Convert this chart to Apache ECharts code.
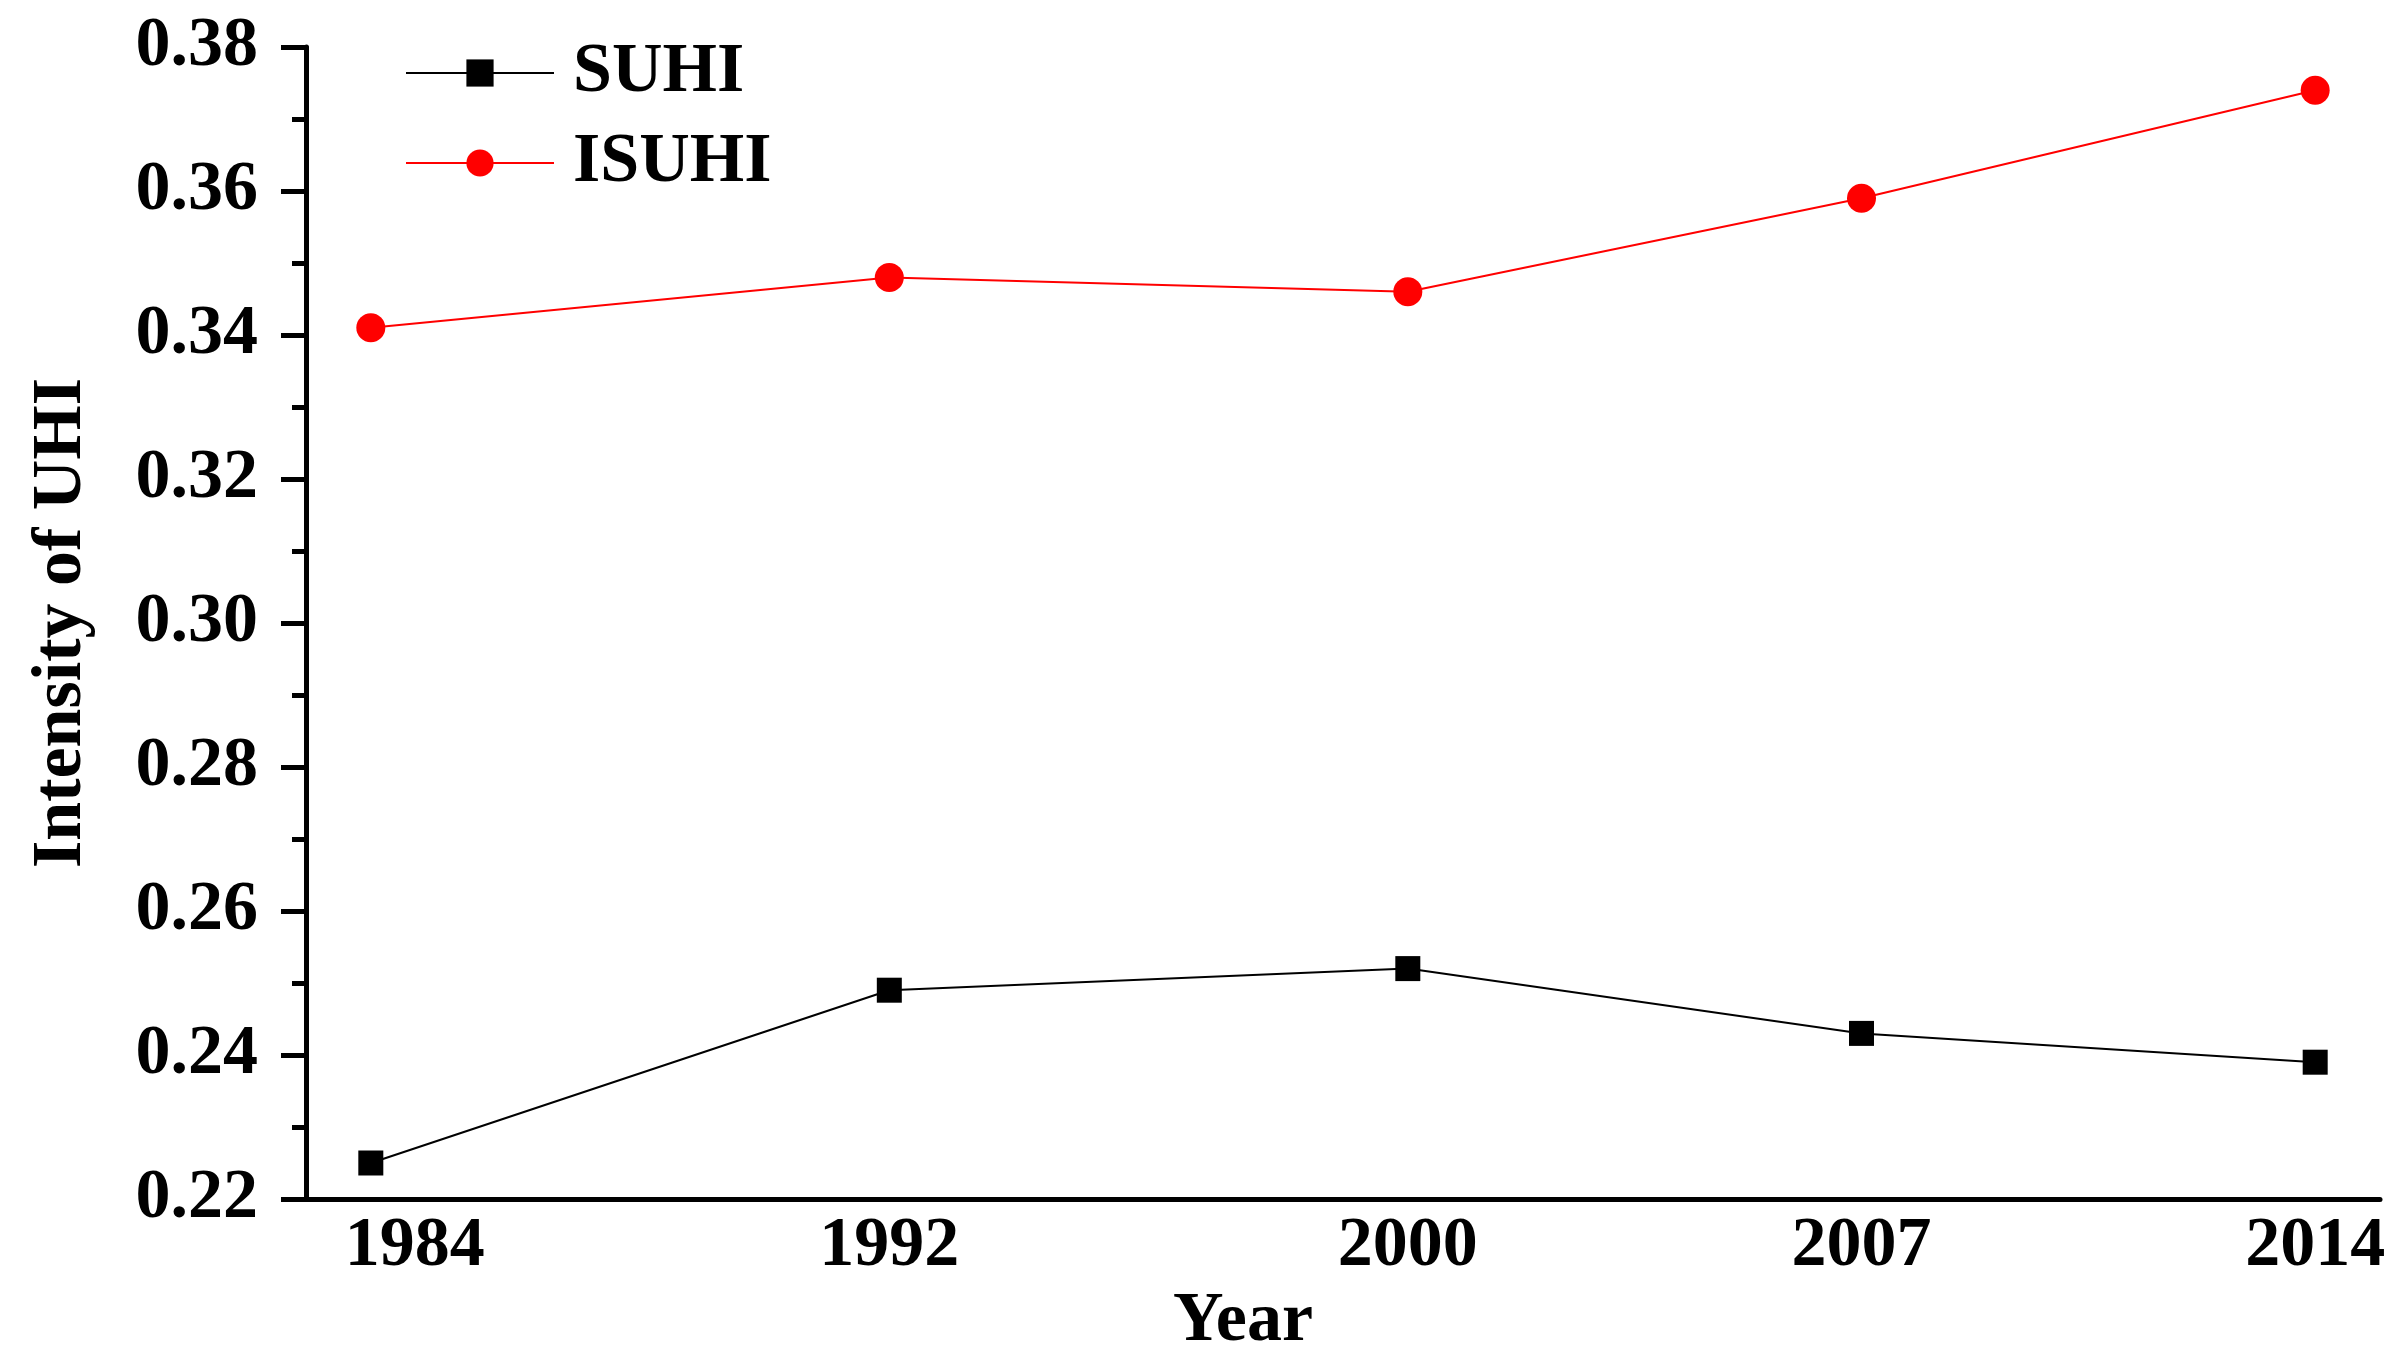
<!DOCTYPE html>
<html>
<head>
<meta charset="utf-8">
<script src="https://cdn.jsdelivr.net/npm/echarts@6/dist/echarts.min.js"></script>
<style>
html,body{margin:0;padding:0;background:#fff;}
#chart{width:2400px;height:1357px;}
</style>
</head>
<body>
<div id="chart"></div>
<script>
const years = [1984, 1992, 2000, 2007, 2014];
const suhi = [0.225, 0.249, 0.252, 0.243, 0.239];
const isuhi = [0.341, 0.348, 0.346, 0.359, 0.374];
const yTicks = [0.22, 0.24, 0.26, 0.28, 0.30, 0.32, 0.34, 0.36, 0.38];

const FONT = 'Liberation Serif';
const chart = echarts.init(document.getElementById('chart'));
chart.setOption({
  animation: false,
  backgroundColor: '#fff',
  grid: { left: 306, right: 20, top: 47, bottom: 158, containLabel: false, outerBoundsMode: 'none' },
  legend: {
    orient: 'vertical',
    left: 400, top: 33,
    itemWidth: 148, itemHeight: 34, itemGap: 20,
    textStyle: { fontFamily: FONT, fontWeight: 'bold', fontSize: 70, color: '#000', lineHeight: 70, padding: [0,0,0,14] },
    data: ['SUHI', 'ISUHI']
  },
  xAxis: {
    type: 'value', min: 1983, max: 2015,
    name: 'Year', nameLocation: 'middle', nameGap: 88, nameMoveOverlap: false,
    nameTextStyle: { fontFamily: FONT, fontWeight: 'bold', fontSize: 70, color: '#000', padding: [0,200,0,0] },
    axisLine: { show: true, lineStyle: { color: '#000', width: 5 } },
    axisTick: { show: false },
    splitLine: { show: false },
    axisLabel: {
      customValues: years,
      fontFamily: FONT, fontWeight: 'bold', fontSize: 70, color: '#000', margin: 13,
      formatter: function (v) { return v === years[0] ? '{a|' + v + '}' : String(v); },
      rich: { a: { fontFamily: FONT, fontWeight: 'bold', fontSize: 70, color: '#000', padding: [0,0,0,88] } }
    }
  },
  yAxis: {
    type: 'value', min: yTicks[0], max: yTicks[yTicks.length-1], interval: 0.02,
    name: 'Intensity of UHI', nameLocation: 'middle', nameGap: 209, nameMoveOverlap: false,
    nameTextStyle: { fontFamily: FONT, fontWeight: 'bold', fontSize: 70, color: '#000' },
    axisLine: { show: true, lineStyle: { color: '#000', width: 5 } },
    axisTick: { show: true, inside: false, length: 25, lineStyle: { color: '#000', width: 5 } },
    minorTick: { show: true, splitNumber: 2, length: 14, lineStyle: { color: '#000', width: 5 } },
    splitLine: { show: false },
    axisLabel: {
      fontFamily: FONT, fontWeight: 'bold', fontSize: 70, color: '#000', margin: 48,
      formatter: function (v) { return v.toFixed(2); }
    }
  },
  series: [
    {
      name: 'SUHI', type: 'line',
      data: years.map((y, i) => [y, suhi[i]]),
      symbol: 'rect', symbolSize: 25,
      itemStyle: { color: '#000' },
      lineStyle: { color: '#000', width: 2 }
    },
    {
      name: 'ISUHI', type: 'line',
      data: years.map((y, i) => [y, isuhi[i]]),
      symbol: 'circle', symbolSize: 29,
      itemStyle: { color: '#ff0000' },
      lineStyle: { color: '#ff0000', width: 2 }
    }
  ]
});
</script>
</body>
</html>
